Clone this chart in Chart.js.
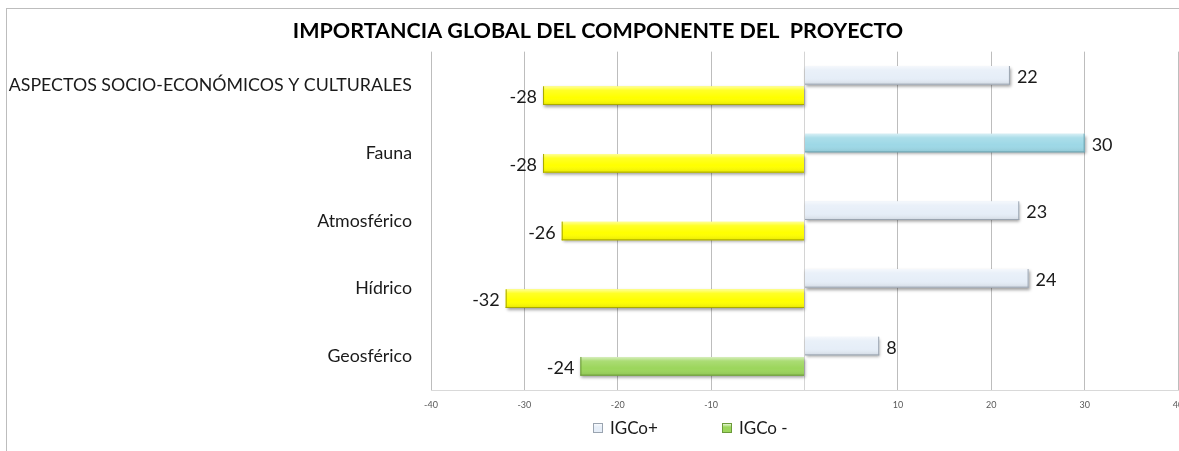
<!DOCTYPE html>
<html>
<head>
<meta charset="utf-8">
<script src="https://cdn.jsdelivr.net/npm/chart.js@4.4.1/dist/chart.umd.min.js"></script>
<style>
  html, body { margin: 0; padding: 0; background: #fff; overflow: hidden; }
  #frame { position: absolute; left: 6px; top: 8px; width: 1300px; height: 600px;
           border-left: 1px solid #bdbdbd; border-top: 1px solid #bdbdbd; }
  #wrap { position: absolute; left: 0; top: 0; }
</style>
</head>
<body>
<div id="frame"></div>
<div id="wrap"><canvas id="igcChart" width="1196" height="451"></canvas></div>
<script>
const categories = ['ASPECTOS SOCIO-ECONÓMICOS Y CULTURALES', 'Fauna', 'Atmosférico', 'Hídrico', 'Geosférico'];
const igcoPlus = [22, 30, 23, 24, 8];
const igcoMinus = [-28, -28, -26, -32, -24];
const xTicks = [-40, -30, -20, -10, 0, 10, 20, 30, 40];
const seriesNames = ['IGCo+', 'IGCo -'];

// fill per bar (Fauna positive bar and Geosférico negative bar are coloured apart)
const plusColors = ['#E6EEF8', '#9DD8E6', '#E6EEF8', '#E6EEF8', '#E6EEF8'];
const minusColors = ['#FFFF00', '#FFFF00', '#FFFF00', '#FFFF00', '#9CD65C'];
const plusEdges = ['#9AA4B0', '#6FA6B4', '#9AA4B0', '#9AA4B0', '#9AA4B0'];
const minusEdges = ['#A8A800', '#A8A800', '#A8A800', '#A8A800', '#6C9A3A'];

const FONT = 'Lato, "Open Sans", sans-serif';

// long category names run past the padded left edge; let the y labels use it
const widenLabels = {
  id: 'widenLabels',
  afterLayout(chart) {
    chart.scales.y.left = 0;
  }
};

// soft shadow + bevel highlight on each bar
const bevelBars = {
  id: 'bevelBars',
  beforeDatasetDraw(chart) {
    const ctx = chart.ctx;
    ctx.save();
    ctx.shadowColor = 'rgba(0,0,0,0.38)';
    ctx.shadowBlur = 3;
    ctx.shadowOffsetX = 1;
    ctx.shadowOffsetY = 2;
  },
  afterDatasetDraw(chart, args) {
    const ctx = chart.ctx;
    ctx.restore();
    const edges = args.index === 0 ? plusEdges : minusEdges;
    args.meta.data.forEach((bar, i) => {
      const p = bar.getProps(['x', 'y', 'base', 'height'], true);
      const left = Math.min(p.x, p.base), w = Math.abs(p.x - p.base);
      const top = p.y - p.height / 2, h = p.height;
      const g = ctx.createLinearGradient(0, top, 0, top + h);
      g.addColorStop(0, 'rgba(255,255,255,0.6)');
      g.addColorStop(0.22, 'rgba(255,255,255,0.15)');
      g.addColorStop(0.6, 'rgba(255,255,255,0)');
      g.addColorStop(1, 'rgba(0,0,0,0.10)');
      ctx.save();
      ctx.fillStyle = g;
      ctx.fillRect(left, top, w, h);
      ctx.strokeStyle = edges[i];
      ctx.lineWidth = 1;
      ctx.beginPath();
      ctx.moveTo(left, top + h - 0.5);
      ctx.lineTo(left + w, top + h - 0.5);
      ctx.moveTo(p.x < p.base ? left + 0.5 : left + w - 0.5, top);
      ctx.lineTo(p.x < p.base ? left + 0.5 : left + w - 0.5, top + h);
      ctx.stroke();
      ctx.restore();
    });
  }
};

// value labels beside the bar ends
const barValues = {
  id: 'barValues',
  afterDatasetsDraw(chart) {
    const ctx = chart.ctx;
    ctx.save();
    ctx.font = '18px ' + FONT;
    ctx.fillStyle = '#1a1a1a';
    ctx.textBaseline = 'middle';
    chart.data.datasets.forEach((ds, di) => {
      chart.getDatasetMeta(di).data.forEach((bar, i) => {
        const v = ds.data[i];
        if (v >= 0) {
          ctx.textAlign = 'left';
          ctx.fillText(String(v), bar.x + 7, bar.y + 2);
        } else {
          ctx.textAlign = 'right';
          ctx.fillText(String(v), bar.x - 6, bar.y + 2);
        }
      });
    });
    ctx.restore();
  }
};

// legend row under the axis
const bottomLegend = {
  id: 'bottomLegend',
  afterDraw(chart) {
    const ctx = chart.ctx;
    const items = [
      { text: seriesNames[0], fill: plusColors[0], edge: plusEdges[0] },
      { text: seriesNames[1], fill: minusColors[4], edge: minusEdges[4] }
    ];
    const y = 428;
    let x = 593;
    ctx.save();
    ctx.font = '17px ' + FONT;
    ctx.textBaseline = 'middle';
    ctx.textAlign = 'left';
    items.forEach(it => {
      const g = ctx.createLinearGradient(0, y - 5, 0, y + 5);
      g.addColorStop(0, '#ffffff');
      g.addColorStop(0.4, it.fill);
      g.addColorStop(1, it.fill);
      ctx.fillStyle = g;
      ctx.fillRect(x, y - 5, 10, 10);
      ctx.strokeStyle = it.edge;
      ctx.lineWidth = 1;
      ctx.strokeRect(x + 0.5, y - 4.5, 9, 9);
      ctx.fillStyle = '#1a1a1a';
      ctx.fillText(it.text, x + 17, y + 1);
      x += 129;
    });
    ctx.restore();
  }
};

new Chart(document.getElementById('igcChart'), {
  type: 'bar',
  data: {
    labels: categories,
    datasets: [
      { label: seriesNames[0], data: igcoPlus, backgroundColor: plusColors, borderWidth: 0 },
      { label: seriesNames[1], data: igcoMinus, backgroundColor: minusColors, borderWidth: 0 }
    ]
  },
  options: {
    indexAxis: 'y',
    responsive: false,
    animation: false,
    events: [],
    categoryPercentage: 0.6,
    barPercentage: 0.92,
    layout: { padding: { left: 18, right: 18, top: 0, bottom: 41 } },
    plugins: {
      legend: { display: false },
      tooltip: { enabled: false },
      title: {
        display: true,
        text: 'IMPORTANCIA GLOBAL DEL COMPONENTE DEL  PROYECTO',
        color: '#000',
        font: { family: FONT, size: 21.5, weight: 'bold', lineHeight: 1.1 },
        padding: { top: 19, bottom: 9 }
      }
    },
    scales: {
      x: {
        min: -40,
        max: 40,
        afterBuildTicks: s => { s.ticks = xTicks.map(v => ({ value: v })); },
        afterFit: s => { s.height = 20; },
        grid: {
          drawTicks: false,
          color: c => (c.tick && c.tick.value === 0 ? '#D4D4D4' : '#BDBDBD')
        },
        border: { display: true, color: '#D9D9D9' },
        ticks: {
          padding: 10,
          maxRotation: 0,
          color: '#595959',
          font: { family: FONT, size: 9 },
          callback: v => (v === 0 ? '' : String(v))
        }
      },
      y: {
        afterFit: s => { s.width = 413; },
        grid: { display: false, drawTicks: false },
        border: { display: false },
        ticks: {
          padding: 19,
          color: '#1a1a1a',
          font: { family: FONT, size: 17.8 }
        }
      }
    }
  },
  plugins: [widenLabels, bevelBars, barValues, bottomLegend]
});
</script>
</body>
</html>
